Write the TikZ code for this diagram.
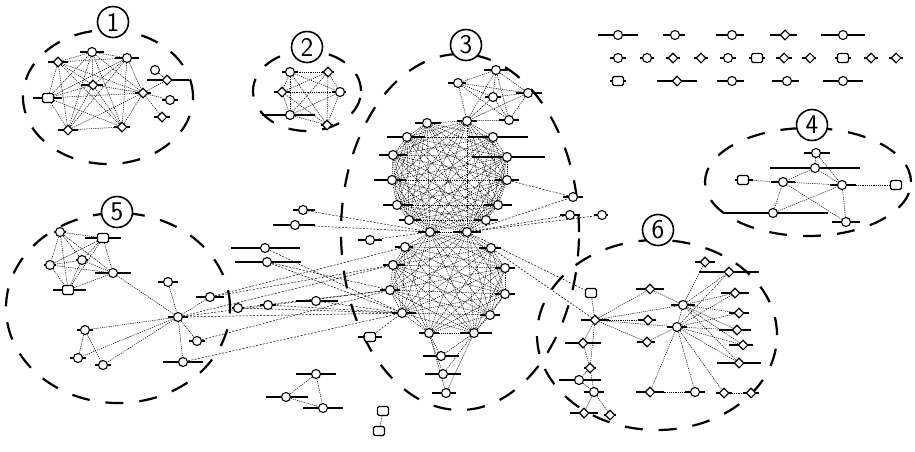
\documentclass[tikz,border=0pt]{standalone}
\usetikzlibrary{shapes.geometric,backgrounds}

\tikzset{
  nc/.style={circle,draw,fill=white,line width=1.1pt,inner sep=0pt,minimum size=9pt},
  nd/.style={diamond,draw,fill=white,line width=1.1pt,inner sep=0pt,minimum size=10pt},
  ns/.style={rectangle,rounded corners=1.5pt,draw,fill=white,line width=1.1pt,inner sep=0pt,minimum width=11pt,minimum height=9pt},
  lbl/.style={line width=2.8pt},
  lnk/.style={dash pattern=on 1.2pt off 1pt,line width=0.5pt,black},
  lnkd/.style={dash pattern=on 2pt off 1.5pt,line width=0.5pt,black},
  grp/.style={dash pattern=on 18pt off 16pt,line width=2.2pt},
  num/.style={circle,draw,fill=white,line width=1.6pt,minimum size=31pt,inner sep=0pt,font=\sffamily\fontsize{27}{27}\selectfont}
}

\newcommand\clique[1]{\foreach \a [count=\i] in {#1} {\foreach \b [count=\j] in {#1} {\ifnum\j>\i \draw[lnk] (\a) -- (\b);\fi}}}

\begin{document}
\begin{tikzpicture}[x=1pt,y=-1pt]
\useasboundingbox (0,0) rectangle (915,451);

% groups
\draw[grp] (108,97) ellipse [x radius=85pt,y radius=67pt];
\draw[grp] (307,91) ellipse [x radius=54pt,y radius=40pt];
\draw[grp] (460,232) ellipse [x radius=119pt,y radius=178pt];
\draw[grp] (808,182) ellipse [x radius=103pt,y radius=54pt];
\draw[grp] (118,308) ellipse [x radius=112pt,y radius=95pt];
\draw[grp] (657,335) ellipse [x radius=120pt,y radius=95pt];

\node[num] (n1) at (113,22) {1};
\node[num] (n2) at (307,47) {2};
\node[num] (n3) at (466,45) {3};
\node[num] (n4) at (812,125) {4};
\node[num] (n5) at (117,212) {5};
\node[num] (n6) at (658,230) {6};

% nodes: name/x/y/shape/left bar/right bar
\foreach \n/\x/\y/\s/\lw/\rw in {
  c1a/92/52/nc/12/12, c1b/58/62/nd/10/10, c1c/127/58/nc/12/12, c1d/93/85/nd/12/10,
  c1e/48/98/ns/15/14, c1f/68/130/nd/10/10, c1g/122/127/nd/8/8, c1h/143/93/nd/8/8,
  c1i/155/70/nc/5/5, c1j/167/80/nd/20/22, c1k/170/100/nc/8/8, c1l/162/117/nd/8/8,
  c2a/290/72/nc/8/8, c2b/328/72/nd/6/6, c2c/282/92/nd/8/8, c2d/340/92/nc/8/6,
  c2e/290/115/nc/28/25, c2f/327/125/nd/6/6,
  t1/618/35/nc/20/20, t2/675/35/nc/12/10, t3/732/35/nc/16/12, t4/785/35/nd/15/12, t5/843/35/nc/22/22,
  t6/618/58/nc/8/8, t7/647/58/nc/7/7, t8/673/58/nd/7/7, t9/701/58/nd/7/7, t10/728/58/nc/8/8,
  t11/757/58/ns/8/8, t12/784/58/nd/8/8, t13/810/58/nd/8/6, t14/843/58/ns/8/8, t15/871/58/nd/7/7,
  t16/896/58/nd/7/7,
  t17/618/81/ns/8/8, t18/677/81/nd/20/20, t19/732/81/nc/15/12, t20/787/81/nc/15/12, t21/843/81/nc/20/20,
  c4a/816/153/nc/12/14, c4b/815/168/nc/45/45, c4c/743/180/ns/8/10, c4d/783/182/nc/12/12,
  c4e/842/185/nc/12/14, c4f/896/185/ns/5/5, c4g/773/213/nc/50/55, c4h/846/222/nc/14/14,
  c5a/60/232/nc/6/6, c5b/103/238/ns/18/18, c5c/50/265/nc/6/6, c5d/82/260/nc/6/6,
  c5e/113/273/nc/18/18, c5f/68/290/ns/15/18, c5g/168/282/nc/10/10, c5h/210/297/nc/14/14,
  c5i/178/317/nc/10/10, c5j/85/330/nc/8/8, c5k/78/358/nc/8/8, c5l/103/365/nc/8/8,
  c5m/197/341/nc/8/8, c5n/183/362/nc/20/20,
  c6a/591/293/ns/6/6, c6b/595/320/nd/14/14, c6c/650/289/nd/14/14, c6d/648/320/nd/10/8,
  c6e/647/342/nd/10/8, c6f/683/305/nc/12/12, c6g/677/327/nc/10/10, c6h/705/262/nd/10/10,
  c6i/729/272/nd/30/30, c6j/735/293/nd/14/14, c6k/739/313/nd/10/10, c6l/737/330/nd/18/14,
  c6m/743/345/nd/14/10, c6n/739/363/nd/22/22, c6o/583/343/nd/18/18, c6p/590/368/nd/6/6,
  c6q/579/380/nc/20/22, c6r/594/392/nc/10/10, c6s/584/413/nd/14/14, c6t/610/415/nd/6/6,
  c6u/650/392/nd/14/14, c6v/695/392/nc/10/10, c6w/724/393/nd/8/8, c6x/751/393/nd/8/8,
  c3a/496/70/nc/12/12, c3b/458/83/nc/10/8, c3c/493/97/nc/8/8, c3d/528/93/nc/12/14,
  c3e/509/120/nc/10/10, c3f/467/121/nc/10/10,
  u1/427/123/nc/12/14, u2/407/137/nc/20/18, u3/393/155/nc/14/14, u4/392/180/nc/18/14,
  u5/397/205/nc/14/16, u6/409/220/nc/10/12, u7/493/137/nc/25/35, u8/507/157/nc/35/38,
  u9/507/180/nc/12/12, u10/498/205/nc/14/14, u11/486/220/nc/12/12,
  p1/430/232/nc/12/10, p2/467/232/nc/14/14,
  w1/405/247/nc/10/8, w2/393/265/nc/10/12, w3/390/290/nc/10/10, w4/402/313/nc/10/14,
  w5/429/333/nc/10/10, w6/474/333/nc/14/18, w7/491/248/nc/12/10, w8/505/268/nc/10/10,
  w9/505/294/nc/10/10, w10/490/315/nc/10/10,
  b1/441/356/nc/18/18, b2/443/374/nc/18/18, b3/446/393/nc/14/10,
  l1/303/210/nc/10/12, l2/295/225/nc/22/20, l3/265/248/nc/34/35, l4/267/262/nc/32/34,
  l6/238/308/nc/6/6, l7/268/305/nc/8/8, l8/316/301/nc/20/22, l9/370/240/nc/12/12,
  l10/370/337/ns/12/12,
  q1/573/197/nc/10/10, q2/570/215/nc/10/10, q3/602/215/nc/8/6,
  d1/316/374/nc/20/20, d2/286/397/nc/20/22, d3/323/408/nc/20/20,
  d4/383/411/ns/3/3, d5/379/431/ns/3/3}
{
  \draw[lbl] ({\x-\lw},\y) -- ({\x+\rw},\y);
  \node[\s] (\n) at (\x,\y) {};
}

\begin{pgfonlayer}{background}
\clique{c1a,c1b,c1c,c1d,c1e,c1f,c1g,c1h}
\clique{c2a,c2b,c2c,c2d,c2e,c2f}
\clique{c3a,c3b,c3c,c3d,c3e,c3f}
\clique{c3f,u1,u2,u3,u4,u5,u6,u7,u8,u9,u10,u11,p1,p2}
\clique{p1,p2,w1,w2,w3,w4,w5,w6,w7,w8,w9,w10}
\clique{c5a,c5b,c5c,c5d,c5e,c5f}
\foreach \a/\b in {c1h/c1j,c1h/c1k,c1h/c1l,c1i/c1j,
  c4a/c4b,c4a/c4e,c4b/c4d,c4b/c4e,c4c/c4d,c4d/c4e,c4d/c4h,c4g/c4e,c4g/c4d,c4e/c4h,c4e/c4f,
  c5e/c5i,c5g/c5i,c5i/c5j,c5i/c5k,c5i/c5l,c5i/c5m,c5i/c5n,c5i/c5h,c5j/c5k,c5j/c5l,
  c6b/c6a,c6b/c6c,c6b/c6d,c6b/c6e,c6b/c6f,c6b/c6g,c6b/c6o,c6b/c6p,c6c/c6f,c6e/c6g,c6f/c6g,
  c6f/c6h,c6f/c6i,c6f/c6j,c6f/c6k,c6f/c6l,c6f/c6m,c6f/c6n,
  c6g/c6i,c6g/c6j,c6g/c6k,c6g/c6l,c6g/c6m,c6g/c6n,c6g/c6u,c6g/c6v,c6g/c6w,
  c6u/c6v,c6w/c6x,c6o/c6p,c6p/c6q,c6p/c6r,c6q/c6r,c6r/c6s,c6r/c6t,
  w5/b1,w6/b1,w5/b2,w6/b2,w5/b3,w6/b3,
  d1/d2,d1/d3,d2/d3,d4/d5}
  \draw[lnk] (\a) -- (\b);
\foreach \a/\b in {c5i/w4,c5i/w3,c5i/w2,c5h/w1,c5h/w2,l6/w4,l6/w3,l7/w4,l3/w4,l4/w4,l4/w3,
  l1/p1,l2/p1,l8/w4,l9/p1,l10/w4,c5m/w3,c5n/w4,
  p2/q1,p2/q2,p2/q3,u9/q1,p2/c6a,w7/c6b}
  \draw[lnkd] (\a) -- (\b);
\end{pgfonlayer}
\end{tikzpicture}
\end{document}
